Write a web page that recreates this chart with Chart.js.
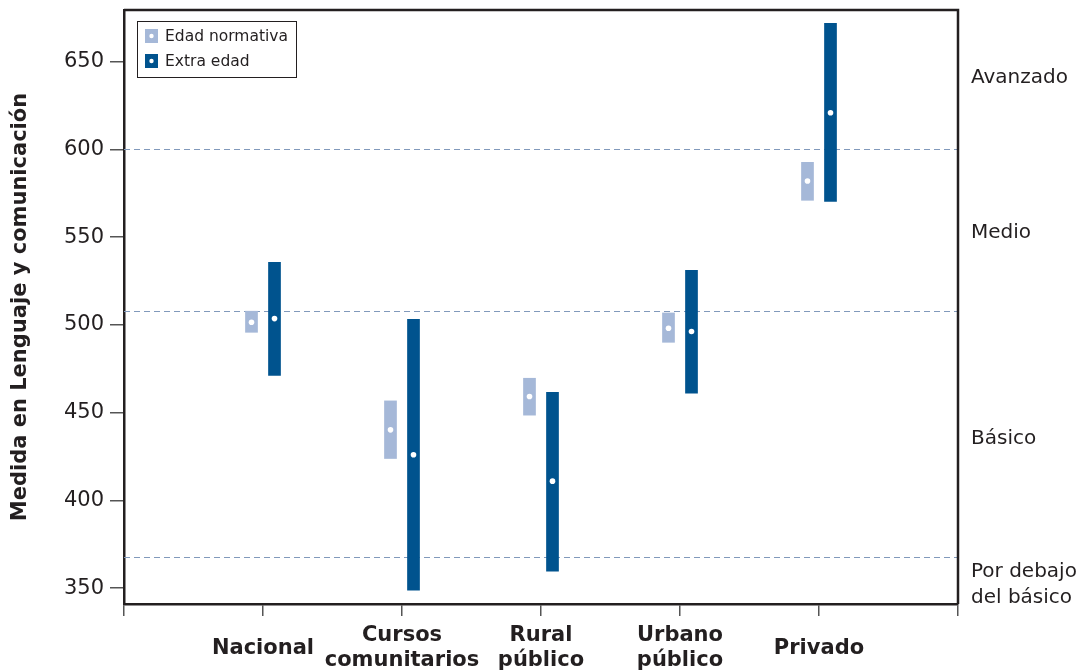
<!DOCTYPE html>
<html><head><meta charset="utf-8">
<script src="https://cdn.jsdelivr.net/npm/chart.js@4.4.0/dist/chart.umd.min.js"></script>
<style>html,body{margin:0;padding:0;background:#fff}#wrap{width:1090px;height:671px;position:relative}</style>
</head><body><div id="wrap"><canvas id="c" width="1090" height="671"></canvas></div>
<script>
const categories = ['', 'Nacional', ['Cursos','comunitarios'], ['Rural','público'], ['Urbano','público'], 'Privado', ''];
const seriesNames = ['Edad normativa', 'Extra edad'];
const normLow  = [null, 495.6, 423.7, 448.4, 489.9, 570.8, null];
const normHigh = [null, 508.0, 456.9, 469.8, 507.0, 592.8, null];
const normMean = [null, 501.5, 440.2, 459.2, 498.1, 582.0, null];
const extraLow  = [null, 471.0, 348.7, 359.5, 460.9, 570.2, null];
const extraHigh = [null, 535.9, 503.4, 461.8, 531.3, 672.0, null];
const extraMean = [null, 503.6, 426.0, 411.0, 496.2, 620.9, null];
const yTicks = [350, 400, 450, 500, 550, 600, 650];
const cutPoints = [368, 508, 600];
const levelNames = [['Por debajo', 'del básico'], 'Básico', 'Medio', 'Avanzado'];
const levelPositions = [352, 435, 552.4, 640.7];
const yMin = 341, yMax = 679.4;

const colLight = '#a5b8d8', colDark = '#00538e', ink = '#231f20';
const FONT = "'DejaVu Sans', Verdana, sans-serif";

const cutLines = {
  id: 'cutLines',
  beforeDatasetsDraw(chart) {
    const {ctx, chartArea: a} = chart; const ys = chart.scales.y;
    ctx.save(); ctx.strokeStyle = '#8199bb'; ctx.lineWidth = 1; ctx.setLineDash([6, 4]);
    cutPoints.forEach(v => { const y = Math.round(ys.getPixelForValue(v)) + 0.5;
      ctx.beginPath(); ctx.moveTo(a.left, y); ctx.lineTo(a.right, y); ctx.stroke(); });
    ctx.restore();
  }
};
const dots = {
  id: 'dots',
  afterDatasetsDraw(chart) {
    const {ctx} = chart; const ys = chart.scales.y; const means = [normMean, extraMean];
    ctx.save(); ctx.fillStyle = '#ffffff';
    [0, 1].forEach(d => chart.getDatasetMeta(d).data.forEach((bar, j) => {
      const v = means[d][j]; if (v == null) return;
      ctx.beginPath(); ctx.arc(bar.x, ys.getPixelForValue(v), 2.8, 0, Math.PI * 2); ctx.fill();
    }));
    ctx.restore();
  }
};
const frame = {
  id: 'frame',
  afterDraw(chart) {
    const {ctx, chartArea: a} = chart;
    ctx.save(); ctx.strokeStyle = ink; ctx.lineWidth = 2.5;
    ctx.beginPath(); ctx.moveTo(a.left, a.top); ctx.lineTo(a.right, a.top); ctx.lineTo(a.right, a.bottom); ctx.stroke();
    // legend
    const lx = a.left + 13, ly = a.top + 11, lw = 159, lh = 56;
    ctx.lineWidth = 1; ctx.strokeStyle = ink; ctx.fillStyle = '#fff';
    ctx.fillRect(lx, ly, lw, lh); ctx.strokeRect(lx + 0.5, ly + 0.5, lw, lh);
    const cols = [colLight, colDark];
    ctx.font = '15.5px ' + FONT; ctx.textBaseline = 'middle'; ctx.textAlign = 'left';
    seriesNames.forEach((n, i) => {
      const cy = ly + 15 + i * 25;
      ctx.fillStyle = cols[i]; ctx.fillRect(lx + 8, cy - 7, 13, 14);
      ctx.fillStyle = '#fff'; ctx.beginPath(); ctx.arc(lx + 14.5, cy, 2.2, 0, Math.PI * 2); ctx.fill();
      ctx.fillStyle = ink; ctx.fillText(n, lx + 28, cy + 1);
    });
    ctx.restore();
  }
};

new Chart(document.getElementById('c'), {
  type: 'bar',
  data: {
    labels: categories,
    datasets: [
      { label: seriesNames[0], data: normLow.map((l, i) => l == null ? null : [l, normHigh[i]]), backgroundColor: colLight },
      { label: seriesNames[1], data: extraLow.map((l, i) => l == null ? null : [l, extraHigh[i]]), backgroundColor: colDark }
    ]
  },
  options: {
    responsive: false, animation: false, devicePixelRatio: 1,
    categoryPercentage: 0.331, barPercentage: 0.552,
    borderSkipped: false, borderWidth: 0,
    layout: { padding: { top: 10, left: 0, right: 0, bottom: 0 } },
    plugins: { legend: { display: false }, tooltip: { enabled: false } },
    scales: {
      x: {
        offset: false,
        grid: { offset: false, drawOnChartArea: false, tickLength: 12, color: '#555', lineWidth: 1.5 },
        border: { color: ink, width: 2.5 },
        ticks: { autoSkip: false, maxRotation: 0, crossAlign: 'center', padding: 20, color: ink,
                 font: { family: FONT, size: 21, weight: 'bold', lineHeight: 1.15 } },
        afterFit(s) { s.height = 67; s.paddingLeft = 0; s.paddingRight = 0; }
      },
      y: {
        position: 'left', min: yMin, max: yMax,
        afterBuildTicks(s) { s.ticks = yTicks.map(v => ({ value: v })); },
        grid: { drawOnChartArea: false, tickLength: 14, color: '#555', lineWidth: 1.5 },
        border: { color: ink, width: 2.5 },
        ticks: { padding: 6, color: ink, font: { family: FONT, size: 21 } },
        title: { display: true, text: 'Medida en Lenguaje y comunicación', color: ink,
                 padding: { top: 8, bottom: 0 }, font: { family: FONT, size: 21, weight: 'bold' } },
        afterFit(s) { s.width = 124; s.paddingTop = 0; s.paddingBottom = 0; }
      },
      y2: {
        position: 'right', min: yMin, max: yMax,
        afterBuildTicks(s) { s.ticks = levelPositions.map(v => ({ value: v })); },
        grid: { display: false, drawTicks: false },
        border: { display: false },
        ticks: { autoSkip: false, padding: 13, color: ink, font: { family: FONT, size: 20, lineHeight: 1.3 },
                 callback: (v, i) => levelNames[i] },
        afterFit(s) { s.width = 132; s.paddingTop = 0; s.paddingBottom = 0; }
      }
    }
  },
  plugins: [cutLines, dots, frame]
});
</script>
</body></html>
